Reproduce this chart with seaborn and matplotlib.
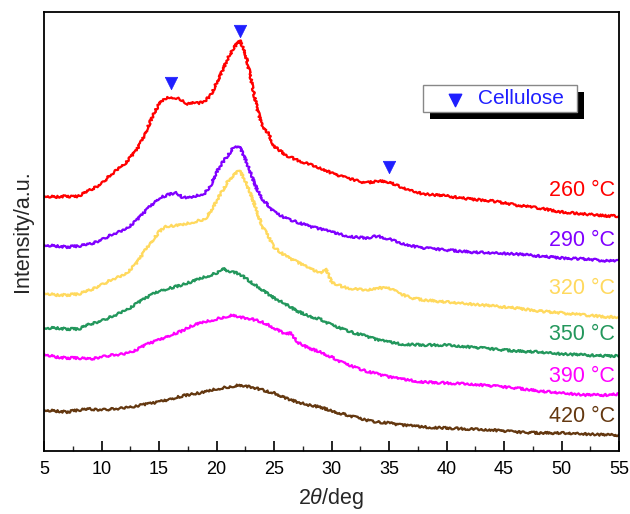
import numpy as np
import pandas as pd
import seaborn as sns
import matplotlib
matplotlib.use("Agg")
import matplotlib.pyplot as plt
from matplotlib.patches import Rectangle
from matplotlib.ticker import MultipleLocator

# ---------------- data ----------------
temps = ["260 °C", "290 °C", "320 °C", "350 °C", "390 °C", "420 °C"]
colors = ["#FF0000", "#8000FF", "#FFD95E", "#23975C", "#FF00FF", "#643810"]

theta_260 = [5, 6, 7, 7.5, 8, 9, 10, 10.5, 11, 12, 13, 13.5, 14, 14.5, 15, 15.5, 16, 16.5, 17, 17.5,
             18, 18.5, 19, 19.5, 20, 20.5, 21, 21.5, 22, 22.5, 23, 23.5, 24, 24.5, 25, 26, 27, 28,
             29, 30, 31, 32, 33, 34, 35, 36, 37, 38, 39, 40, 42, 44, 46, 48, 50, 52, 54, 55]
int_260 = [255, 254, 255, 254, 255, 261, 267, 273, 278, 287, 300, 310, 323, 336, 347, 352, 354, 353, 351, 347,
           349, 348, 350, 356, 368, 380, 393, 403, 411, 398, 372, 344, 323, 318, 305, 296, 291, 287,
           283, 278, 274, 271, 268, 270, 269, 264, 260, 257, 256, 255, 252, 250, 246, 243, 239, 237, 235, 235]

theta_290 = [5, 6, 7, 8, 9, 10, 11, 12, 13, 14, 15, 15.5, 16, 16.5, 17, 17.5, 18, 19, 19.5, 20, 20.5,
             21, 21.5, 22, 22.5, 23, 23.5, 24, 25, 26, 27, 28, 29, 30, 31, 32, 33, 34, 35, 36, 37, 38,
             40, 42, 44, 46, 48, 50, 52, 54, 55]
int_290 = [206, 205, 204, 205, 207, 211, 217, 221, 230, 242, 253, 255, 257, 258, 254, 253, 254, 258, 266, 279, 288,
           296, 304, 305, 292, 277, 262, 252, 239, 233, 229, 225, 222, 219, 216, 214, 213, 215, 212, 208, 205, 203,
           201, 199, 198, 197, 195, 193, 192, 190, 190]

theta_320 = [5, 6, 7, 8, 9, 10, 11, 12, 13, 14, 15, 15.5, 16, 17, 18, 19, 19.5, 20, 20.5, 21, 21.5, 22,
             22.5, 23, 23.5, 24, 24.5, 25, 26, 27, 28, 29, 29.5, 30, 31, 32, 33, 34, 35, 36, 37, 38,
             40, 42, 44, 46, 48, 50, 52, 54, 55]
int_320 = [158, 156, 156, 157, 161, 166, 172, 176, 187, 204, 219, 224, 225, 226, 229, 232, 240, 250, 260, 270, 276, 281,
           270, 256, 240, 224, 215, 204, 195, 189, 183, 178, 183, 169, 164, 162, 161, 163, 163, 157, 153, 151,
           149, 147, 145, 143, 140, 138, 136, 134, 134]

theta_350 = [5, 6, 7, 8, 9, 10, 11, 12, 13, 14, 15, 16, 17, 18, 19, 20, 20.5, 21, 21.5, 22, 23, 24, 25,
             26, 27, 28, 29, 30, 31, 32, 33, 34, 35, 36, 38, 40, 42, 44, 46, 48, 50, 52, 54, 55]
int_350 = [123, 123, 122, 122, 127, 130, 135, 140, 147, 154, 160, 163, 166, 170, 174, 178, 183, 180, 179, 177, 169, 161, 153,
           147, 140, 135, 132, 126, 122, 118, 115, 111, 109, 107, 106, 106, 104, 102, 100, 99, 97, 96, 95, 95]

theta_390 = [5, 6, 7, 8, 9, 10, 11, 12, 13, 14, 15, 16, 17, 18, 19, 20, 21, 21.5, 22, 22.5, 23, 24, 25,
             26, 26.5, 27, 28, 29, 30, 31, 32, 33, 34, 35, 36, 38, 40, 42, 44, 46, 48, 50, 52, 54, 55]
int_390 = [97, 94, 93, 93, 92, 94, 96, 97, 101, 107, 111, 116, 120, 126, 129, 132, 135, 136, 134, 133, 132, 129, 123,
           117, 118, 109, 103, 99, 94, 88, 84, 80, 77, 74, 72, 69, 68, 67, 65, 63, 60, 58, 56, 56, 57]

theta_420 = [5, 6, 7, 8, 9, 10, 11, 12, 13, 14, 15, 16, 17, 18, 19, 20, 21, 22, 23, 24, 25, 26, 27, 28,
             29, 30, 31, 32, 33, 34, 35, 36, 38, 40, 42, 44, 46, 48, 50, 52, 54, 55]
int_420 = [41, 40, 39, 41, 42, 41, 42, 43, 45, 47, 49, 52, 55, 57, 59, 62, 64, 66, 64, 61, 58, 53, 49, 46,
           44, 40, 37, 34, 31, 29, 28, 26, 24, 23, 22, 21, 19, 18, 18, 17, 16, 16]

cellulose_theta = [16, 22, 35]
cellulose_int = [368, 420, 284]

xticks = [5, 10, 15, 20, 25, 30, 35, 40, 45, 50, 55]

# ---------------- build table ----------------
series = [(theta_260, int_260), (theta_290, int_290), (theta_320, int_320),
          (theta_350, int_350), (theta_390, int_390), (theta_420, int_420)]
frames = []
for t, (xs, ys) in zip(temps, series):
    frames.append(pd.DataFrame({"two_theta": xs, "intensity": ys, "temp": t}))
df = pd.concat(frames, ignore_index=True)

# ---------------- style ----------------
sns.set_style("white")
plt.rcParams["font.family"] = ["Liberation Sans", "DejaVu Sans"]
plt.rcParams["mathtext.fontset"] = "custom"
plt.rcParams["mathtext.rm"] = "Liberation Sans"
plt.rcParams["mathtext.it"] = "Liberation Sans:italic"

fig = plt.figure(figsize=(6.3, 5.14), dpi=100)
ax = fig.add_axes([44 / 630, 1 - 451 / 514, 575 / 630, 439 / 514])

sns.lineplot(data=df, x="two_theta", y="intensity", hue="temp", hue_order=temps,
             palette=colors, estimator=None, sort=False, legend=False, linewidth=1.6, ax=ax)
for ln in ax.lines:
    ln.set_sketch_params(scale=1.1, length=2.5, randomness=6)
    ln.set_solid_joinstyle("round")

sns.scatterplot(x=cellulose_theta, y=cellulose_int, marker="v", s=80, color="#1F1FFF",
                edgecolor="#1F1FFF", linewidth=0.5, ax=ax, zorder=5, legend=False)

ax.set_xlim(5, 55)
ax.set_ylim(0, 439)
ax.set_xticks(xticks)
ax.xaxis.set_minor_locator(MultipleLocator(2.5))
ax.set_yticks([])
ax.tick_params(axis="x", which="major", direction="in", length=7, width=1.2, colors="black",
               labelsize=13, pad=7, bottom=True, top=False)
ax.tick_params(axis="x", which="minor", direction="in", length=3.5, width=1.0, bottom=True, top=False)
for sp in ax.spines.values():
    sp.set_color("black")
    sp.set_linewidth(1.3)

ax.set_xlabel(r"2$\it{\theta}$/deg", fontsize=15.5, labelpad=6)
ax.set_ylabel("Intensity/a.u.", fontsize=15.5, labelpad=8)

# temperature labels
label_y = [261, 210, 162, 117, 75, 35]
for t, c, yv in zip(temps, colors, label_y):
    ax.text(54.65, yv, t, color=c, fontsize=15.5, ha="right", va="center")

# legend box with black shadow
bx0 = (423 - 44) / 575
by0 = (451 - 112) / 439
bw = 154 / 575
bh = 27 / 439
ax.add_patch(Rectangle((bx0 + 7 / 575, by0 - 7 / 439), bw, bh, transform=ax.transAxes,
                       facecolor="black", edgecolor="none", zorder=6))
ax.add_patch(Rectangle((bx0, by0), bw, bh, transform=ax.transAxes,
                       facecolor="white", edgecolor="#888888", linewidth=1.0, zorder=7))
ax.scatter([(455 - 44) / 575], [(451 - 100) / 439], marker="v", s=80, color="#1F1FFF",
           transform=ax.transAxes, zorder=8)
ax.text((478 - 44) / 575, (451 - 98) / 439, "Cellulose", color="#1F1FFF", fontsize=15,
        transform=ax.transAxes, ha="left", va="center", zorder=8)

fig.savefig("out.png", dpi=100)
